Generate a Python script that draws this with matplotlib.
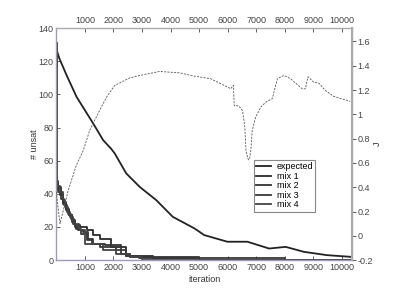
import matplotlib
matplotlib.use("Agg")
import matplotlib.pyplot as plt

# expected number of unsatisfied clauses
exp_iter = [10, 100, 360, 710, 1000, 1290, 1640, 1930, 2045, 2450, 2920, 3500, 4080,
            4840, 5180, 5990, 6690, 7450, 8030, 8670, 9480, 10300]
exp_unsat = [127, 122, 111.6, 98.5, 90.5, 82.5, 72.4, 67, 64.4, 52.3, 44.2, 36.2, 26.1,
             19.1, 15.1, 11.1, 11.1, 7.0, 8.0, 5.0, 3.0, 2.0]

# mixture runs (step curves)
mix1_iter = [0, 15, 60, 150, 250, 350, 450, 550, 650, 830, 1060, 1300, 1520, 1930, 2450, 3380, 4900, 10300]
mix1_unsat = [131, 48, 44, 40, 35, 31, 27, 24, 21, 20, 18, 15, 12.5, 8, 2.4, 1, 0, 0]
mix2_iter = [0, 12, 50, 140, 230, 330, 430, 540, 640, 760, 940, 1100, 1290, 1700, 2280, 2570, 5000, 10300]
mix2_unsat = [130, 46, 43, 39, 34, 30, 27, 23, 20, 18, 17, 13, 10, 9, 4, 2, 0, 0]
mix3_iter = [0, 18, 70, 160, 260, 360, 470, 580, 700, 850, 1060, 1250, 1520, 2100, 2450, 2900, 8000, 10300]
mix3_unsat = [129, 45, 41, 37, 33, 29, 26, 22, 19, 16, 12, 10, 8, 6, 2.4, 1, 0, 0]
mix4_iter = [0, 10, 40, 120, 220, 320, 420, 520, 620, 780, 1000, 1640, 2100, 2570, 3000, 10300]
mix4_unsat = [131, 50, 45, 41, 36, 32, 28, 25, 22, 18, 10, 6, 4, 2, 0, 0]

# J (right axis)
j_iter = [0, 130, 420, 700, 940, 1170, 1460, 1760, 2045, 2570, 2920, 3610, 4310, 4830,
          5410, 6110, 6200, 6230, 6290, 6400, 6520, 6600, 6640, 6700, 6730, 6770, 6810,
          6860, 6980, 7160, 7330, 7560, 7740, 7970, 8200, 8610, 8720, 8810, 9010, 9190,
          9420, 9710, 10290]
j_val = [0.36, 0.10, 0.375, 0.58, 0.70, 0.868, 1.006, 1.142, 1.238, 1.30, 1.32, 1.353, 1.342, 1.315,
         1.293, 1.211, 1.24, 1.07, 1.074, 1.066, 1.03, 0.896, 0.704, 0.64, 0.625, 0.64, 0.704,
         0.868, 0.978, 1.06, 1.10, 1.129, 1.293, 1.32, 1.293, 1.21, 1.21, 1.31, 1.265, 1.257,
         1.197, 1.148, 1.107]

xticks = [1000, 2000, 3000, 4000, 5000, 6000, 7000, 8000, 9000, 10000]
yticks_left = [0, 20, 40, 60, 80, 100, 120, 140]
yticks_right = [-0.2, 0, 0.2, 0.4, 0.6, 0.8, 1, 1.2, 1.4, 1.6]
yticklabels_right = ["-0.2", "0", "0.2", "0.4", "0.6", "0.8", "1", "1.2", "1.4", "1.6"]

plt.rcParams['font.family'] = ['Liberation Sans', 'DejaVu Sans']
plt.rcParams['font.size'] = 6.5

fig = plt.figure(figsize=(3.95, 2.99), dpi=100)
ax = fig.add_axes([0.1425, 0.13, 0.7485, 0.776])

ax.plot(exp_iter, exp_unsat, color="#222222", lw=1.3, label="expected")
ax.plot(mix1_iter, mix1_unsat, color="#2a2a2a", lw=1.3, drawstyle="steps-post", label="mix 1")
ax.plot(mix2_iter, mix2_unsat, color="#333333", lw=1.3, drawstyle="steps-post", label="mix 2")
ax.plot(mix3_iter, mix3_unsat, color="#383838", lw=1.3, drawstyle="steps-post", label="mix 3")
ax.plot(mix4_iter, mix4_unsat, color="#444444", lw=1.3, drawstyle="steps-post", label="mix 4")

ax.set_xlim(0, 10350)
ax.set_ylim(0, 140)
ax.set_xticks(xticks)
ax.set_yticks(yticks_left)
ax.set_xlabel("iteration", color="#333333", labelpad=2)
ax.set_ylabel("# unsat", color="#333333", labelpad=0)
ax.tick_params(direction="in", length=3, width=0.6, colors="#444444", top=True, labeltop=True, pad=2)
for side in ["left", "bottom"]:
    ax.spines[side].set_color("#9a9abb")
for side in ["top", "right"]:
    ax.spines[side].set_color("#aaaaaa")
for sp in ax.spines.values():
    sp.set_linewidth(1.0)

ax2 = ax.twinx()
ax2.plot(j_iter, j_val, color="#555555", lw=0.6, ls=(0, (2.5, 1.5)))
ax2.set_ylim(-0.2, 1.71)
ax2.set_yticks(yticks_right)
ax2.set_yticklabels(yticklabels_right)
ax2.set_ylabel("J", color="#333333", labelpad=0)
ax2.tick_params(direction="out", length=3, width=0.6, colors="#444444", pad=1)
for sp in ax2.spines.values():
    sp.set_visible(False)
ax2.spines["right"].set_visible(True)
ax2.spines["right"].set_color("#aaaaaa")
ax2.spines["right"].set_linewidth(1.5)

# legend on top axes so the dashed curve stays behind it
handles, labels = ax.get_legend_handles_labels()
leg = ax2.legend(handles, labels, loc="lower left", bbox_to_anchor=(0.652, 0.19), fancybox=False,
                 framealpha=1, edgecolor="#888888", handlelength=1.7, handletextpad=0.6,
                 borderpad=0.25, labelspacing=0.05, fontsize=6.5)
leg.get_frame().set_linewidth(0.8)

fig.savefig("out.png", dpi=100)
